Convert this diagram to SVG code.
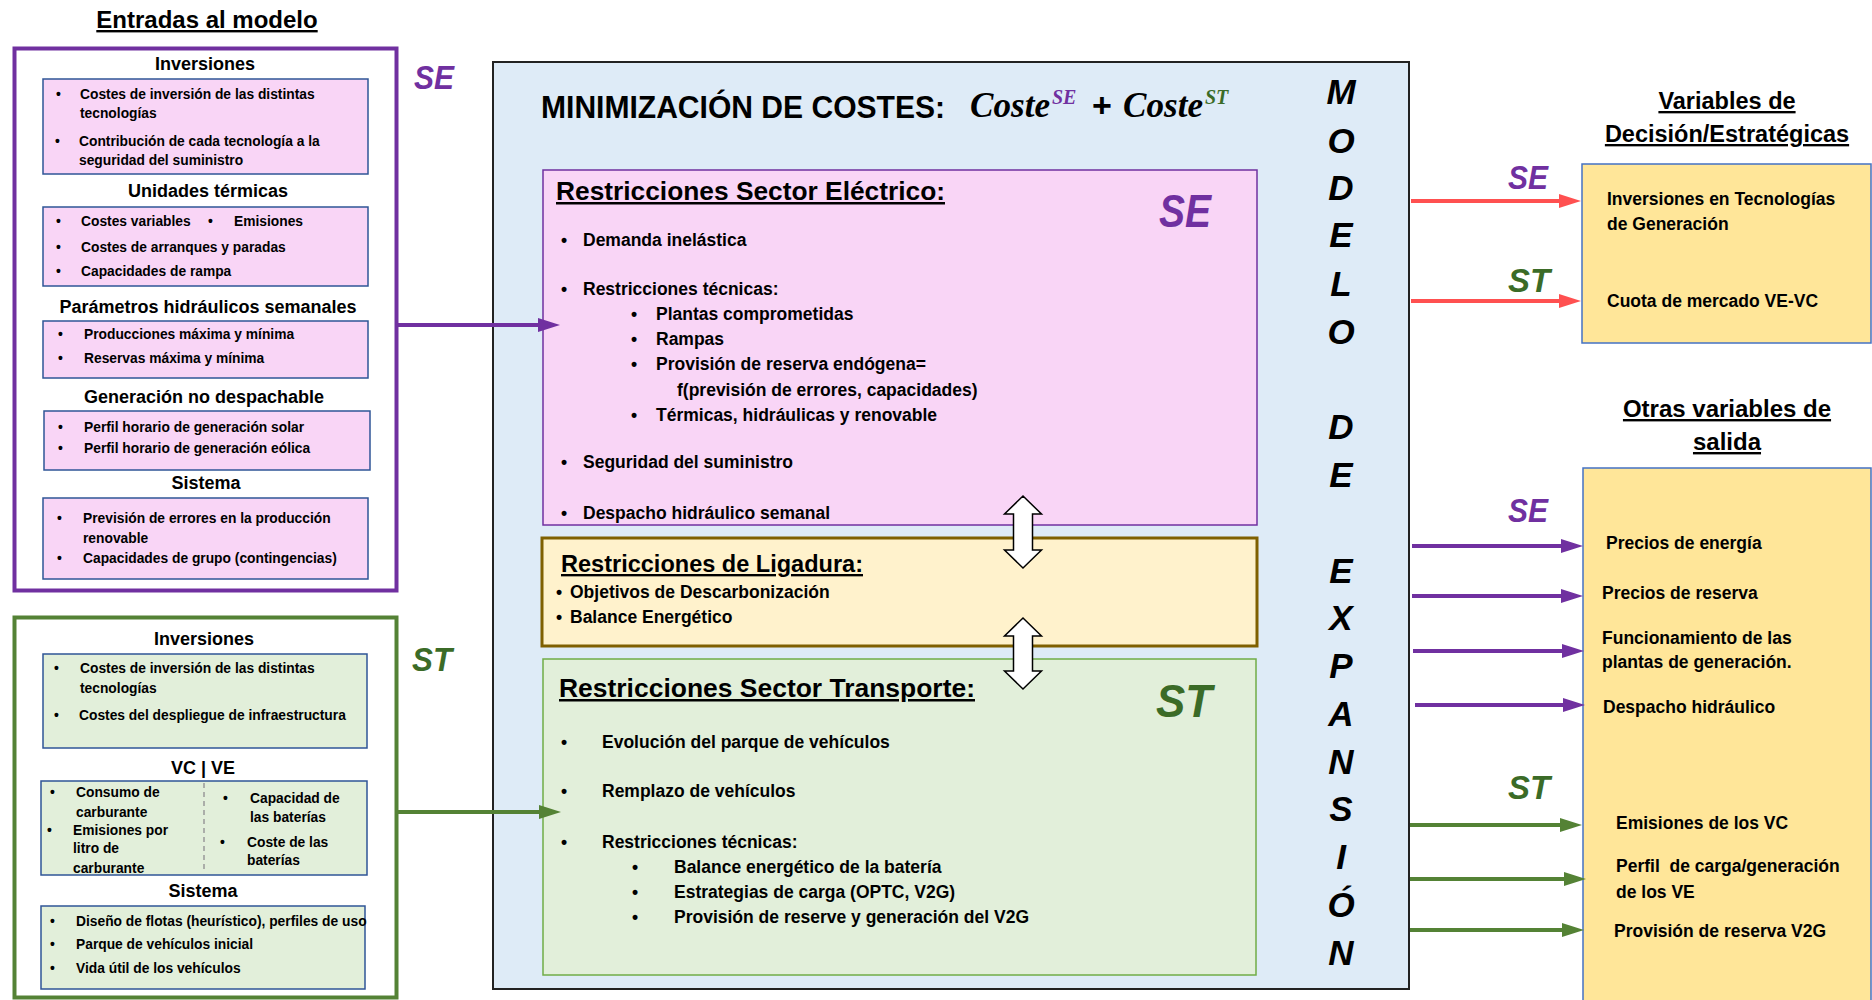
<svg xmlns="http://www.w3.org/2000/svg" width="1872" height="1000" viewBox="0 0 1872 1000">
<style>
text{font-family:"Liberation Sans",Arial,sans-serif;font-weight:bold;fill:#000}
.big{font-size:24px;text-decoration:underline;text-anchor:middle}
.hd{font-size:18px;text-anchor:middle}
.li{font-size:13.8px}
.c{font-size:17.5px}
.tt{font-size:25px;text-decoration:underline}
.lab{font-size:33px;font-style:italic}
.lab2{font-size:46px;font-style:italic}
.se{fill:#7030A0}
.st{fill:#3B6B27}
.inb{stroke:#2F5597;stroke-width:1.5}
.pk{fill:#F9D5F6}
.gr{fill:#E2EFDA}
.mod{font-size:35px;font-style:italic;text-anchor:middle}
.f{font-family:"Liberation Serif","Times New Roman",serif;font-style:italic;font-weight:bold}
.dbl{fill:#fff;stroke:#000;stroke-width:1.5}
.cp{stroke:#7030A0;stroke-width:4;fill:none}
.cg{stroke:#548235;stroke-width:4;fill:none}
.cr{stroke:#FF5050;stroke-width:4;fill:none}
</style>
<defs>
<marker id="ap" markerUnits="userSpaceOnUse" markerWidth="22" markerHeight="14" refX="2" refY="7" orient="auto"><path d="M0,0 L22,7 L0,14 z" fill="#7030A0"/></marker>
<marker id="ag" markerUnits="userSpaceOnUse" markerWidth="22" markerHeight="14" refX="2" refY="7" orient="auto"><path d="M0,0 L22,7 L0,14 z" fill="#548235"/></marker>
<marker id="ar" markerUnits="userSpaceOnUse" markerWidth="22" markerHeight="14" refX="2" refY="7" orient="auto"><path d="M0,0 L22,7 L0,14 z" fill="#FF5050"/></marker>
</defs>
<rect width="1872" height="1000" fill="#fff"/>

<text x="207" y="28" class="big">Entradas al modelo</text>

<g id="inputs-se">
<rect x="14.5" y="48.5" width="382" height="542" fill="#fff" stroke="#7030A0" stroke-width="4"/>
<text x="414" y="89" class="lab se" textLength="40" lengthAdjust="spacingAndGlyphs">SE</text>
<text x="205" y="70" class="hd">Inversiones</text>
<rect x="43" y="79" width="325" height="95" class="pk inb"/>
<text x="56" y="99" class="li">•</text><text x="80" y="99" class="li">Costes de inversión de las distintas</text>
<text x="80" y="118" class="li">tecnologías</text>
<text x="55" y="146" class="li">•</text><text x="79" y="146" class="li">Contribución de cada tecnología a la</text>
<text x="79" y="165" class="li">seguridad del suministro</text>
<text x="208" y="197" class="hd">Unidades térmicas</text>
<rect x="43" y="207" width="325" height="79" class="pk inb"/>
<text x="56" y="226" class="li">•</text><text x="81" y="226" class="li">Costes variables</text>
<text x="208" y="226" class="li">•</text><text x="234" y="226" class="li">Emisiones</text>
<text x="56" y="252" class="li">•</text><text x="81" y="252" class="li">Costes de arranques y paradas</text>
<text x="56" y="276" class="li">•</text><text x="81" y="276" class="li">Capacidades de rampa</text>
<text x="208" y="313" class="hd">Parámetros hidráulicos semanales</text>
<rect x="43" y="321" width="325" height="57" class="pk inb"/>
<text x="58" y="339" class="li">•</text><text x="84" y="339" class="li">Producciones máxima y mínima</text>
<text x="58" y="363" class="li">•</text><text x="84" y="363" class="li">Reservas máxima y mínima</text>
<text x="204" y="403" class="hd">Generación no despachable</text>
<rect x="44" y="411" width="326" height="59" class="pk inb"/>
<text x="58" y="432" class="li">•</text><text x="84" y="432" class="li">Perfil horario de generación solar</text>
<text x="58" y="453" class="li">•</text><text x="84" y="453" class="li">Perfil horario de generación eólica</text>
<text x="206" y="489" class="hd">Sistema</text>
<rect x="43" y="498" width="325" height="81" class="pk inb"/>
<text x="57" y="523" class="li">•</text><text x="83" y="523" class="li">Previsión de errores en la producción</text>
<text x="83" y="543" class="li">renovable</text>
<text x="57" y="563" class="li">•</text><text x="83" y="563" class="li">Capacidades de grupo (contingencias)</text>
</g>

<g id="inputs-st">
<rect x="14.5" y="617.5" width="382" height="380" fill="#fff" stroke="#548235" stroke-width="4"/>
<text x="412" y="671" class="lab st" textLength="40" lengthAdjust="spacingAndGlyphs">ST</text>
<text x="204" y="645" class="hd">Inversiones</text>
<rect x="43" y="654" width="324" height="94" class="gr inb"/>
<text x="54" y="673" class="li">•</text><text x="80" y="673" class="li">Costes de inversión de las distintas</text>
<text x="80" y="693" class="li">tecnologías</text>
<text x="54" y="720" class="li">•</text><text x="79" y="720" class="li">Costes del despliegue de infraestructura</text>
<text x="203" y="774" class="hd">VC | VE</text>
<rect x="41" y="781" width="326" height="94" class="gr inb"/>
<line x1="204" y1="783" x2="204" y2="870" stroke="#999" stroke-width="1.5" stroke-dasharray="5,4"/>
<text x="50" y="797" class="li">•</text><text x="76" y="797" class="li">Consumo de</text>
<text x="76" y="817" class="li">carburante</text>
<text x="47" y="835" class="li">•</text><text x="73" y="835" class="li">Emisiones por</text>
<text x="73" y="853" class="li">litro de</text>
<text x="73" y="873" class="li">carburante</text>
<text x="223" y="803" class="li">•</text><text x="250" y="803" class="li">Capacidad de</text>
<text x="250" y="822" class="li">las baterías</text>
<text x="220" y="847" class="li">•</text><text x="247" y="847" class="li">Coste de las</text>
<text x="247" y="865" class="li">baterías</text>
<text x="203" y="897" class="hd">Sistema</text>
<rect x="41" y="906" width="324" height="83" class="gr inb"/>
<text x="50" y="926" class="li">•</text><text x="76" y="926" class="li">Diseño de flotas (heurístico), perfiles de uso</text>
<text x="50" y="949" class="li">•</text><text x="76" y="949" class="li">Parque de vehículos inicial</text>
<text x="50" y="973" class="li">•</text><text x="76" y="973" class="li">Vida útil de los vehículos</text>
</g>

<g id="modelo">
<rect x="493" y="62" width="916" height="927" fill="#DEEBF7" stroke="#222" stroke-width="2"/>
<text x="541" y="118" font-size="31" textLength="404" lengthAdjust="spacingAndGlyphs">MINIMIZACIÓN DE COSTES:</text>
<text x="970" y="117" class="f" font-size="35" textLength="80" lengthAdjust="spacingAndGlyphs">Coste</text>
<text x="1052" y="104" class="f se" font-size="20">SE</text>
<text x="1102" y="117" font-family="Liberation Serif,serif" font-weight="normal" font-size="34" text-anchor="middle">+</text>
<text x="1123" y="117" class="f" font-size="35" textLength="80" lengthAdjust="spacingAndGlyphs">Coste</text>
<text x="1205" y="104" class="f st" font-size="20">ST</text>
<text class="mod"><tspan x="1341" y="104">M</tspan><tspan x="1341" y="153">O</tspan><tspan x="1341" y="200">D</tspan><tspan x="1341" y="247">E</tspan><tspan x="1341" y="296">L</tspan><tspan x="1341" y="344">O</tspan><tspan x="1341" y="439">D</tspan><tspan x="1341" y="487">E</tspan><tspan x="1341" y="583">E</tspan><tspan x="1341" y="630">X</tspan><tspan x="1341" y="678">P</tspan><tspan x="1341" y="726">A</tspan><tspan x="1341" y="774">N</tspan><tspan x="1341" y="821">S</tspan><tspan x="1341" y="869">I</tspan><tspan x="1341" y="917">Ó</tspan><tspan x="1341" y="965">N</tspan></text>
</g>

<g id="restr-se">
<rect x="543" y="170" width="714" height="355" fill="#F9D5F6" stroke="#7030A0" stroke-width="1.5"/>
<text x="556" y="200" class="tt" textLength="389" lengthAdjust="spacingAndGlyphs">Restricciones Sector Eléctrico:</text>
<text x="1159" y="227" class="lab2 se" textLength="52" lengthAdjust="spacingAndGlyphs">SE</text>
<text x="561" y="246" class="c">•</text><text x="583" y="246" class="c">Demanda inelástica</text>
<text x="561" y="295" class="c">•</text><text x="583" y="295" class="c">Restricciones técnicas:</text>
<text x="631" y="320" class="c">•</text><text x="656" y="320" class="c">Plantas comprometidas</text>
<text x="631" y="345" class="c">•</text><text x="656" y="345" class="c">Rampas</text>
<text x="631" y="370" class="c">•</text><text x="656" y="370" class="c">Provisión de reserva endógena=</text>
<text x="677" y="396" class="c">f(previsión de errores, capacidades)</text>
<text x="631" y="421" class="c">•</text><text x="656" y="421" class="c">Térmicas, hidráulicas y renovable</text>
<text x="561" y="468" class="c">•</text><text x="583" y="468" class="c">Seguridad del suministro</text>
<text x="561" y="519" class="c">•</text><text x="583" y="519" class="c">Despacho hidráulico semanal</text>
</g>

<g id="restr-ligadura">
<rect x="542" y="538" width="715" height="108" fill="#FFF2CC" stroke="#7F6000" stroke-width="3"/>
<text x="561" y="572" class="tt" style="font-size:23.5px" textLength="302" lengthAdjust="spacingAndGlyphs">Restricciones de Ligadura:</text>
<text x="556" y="598" class="c">•</text><text x="570" y="598" class="c">Objetivos de Descarbonización</text>
<text x="556" y="623" class="c">•</text><text x="570" y="623" class="c">Balance Energético</text>
</g>

<g id="restr-st">
<rect x="543" y="659" width="713" height="316" fill="#E2EFDA" stroke="#70AD47" stroke-width="1.5"/>
<text x="559" y="697" class="tt" textLength="416" lengthAdjust="spacingAndGlyphs">Restricciones Sector Transporte:</text>
<text x="1156" y="717" class="lab2 st" textLength="56" lengthAdjust="spacingAndGlyphs">ST</text>
<text x="561" y="748" class="c">•</text><text x="602" y="748" class="c">Evolución del parque de vehículos</text>
<text x="561" y="797" class="c">•</text><text x="602" y="797" class="c">Remplazo de vehículos</text>
<text x="561" y="848" class="c">•</text><text x="602" y="848" class="c">Restricciones técnicas:</text>
<text x="632" y="873" class="c">•</text><text x="674" y="873" class="c">Balance energético de la batería</text>
<text x="632" y="898" class="c">•</text><text x="674" y="898" class="c">Estrategias de carga (OPTC, V2G)</text>
<text x="632" y="923" class="c">•</text><text x="674" y="923" class="c">Provisión de reserve y generación del V2G</text>
</g>

<g id="decision">
<text x="1727" y="109" class="big" style="font-size:23.5px">Variables de</text>
<text x="1727" y="142" class="big" style="font-size:23.5px">Decisión/Estratégicas</text>
<rect x="1582" y="164" width="289" height="179" fill="#FFE699" stroke="#4472C4" stroke-width="1.5"/>
<text x="1607" y="205" class="c">Inversiones en Tecnologías</text>
<text x="1607" y="230" class="c">de Generación</text>
<text x="1607" y="307" class="c">Cuota de mercado VE-VC</text>
</g>

<g id="salidas">
<text x="1727" y="417" class="big">Otras variables de</text>
<text x="1727" y="450" class="big">salida</text>
<rect x="1583" y="468" width="288" height="545" fill="#FFE699" stroke="#4472C4" stroke-width="1.5"/>
<text x="1606" y="549" class="c">Precios de energía</text>
<text x="1602" y="599" class="c">Precios de reserva</text>
<text x="1602" y="644" class="c">Funcionamiento de las</text>
<text x="1602" y="668" class="c">plantas de generación.</text>
<text x="1603" y="713" class="c">Despacho hidráulico</text>
<text x="1616" y="829" class="c">Emisiones de los VC</text>
<text x="1616" y="872" class="c">Perfil&#160; de carga/generación</text>
<text x="1616" y="898" class="c">de los VE</text>
<text x="1614" y="937" class="c">Provisión de reserva V2G</text>
</g>

<g id="connectors">
<line x1="398" y1="325" x2="540" y2="325" class="cp" marker-end="url(#ap)"/>
<line x1="398" y1="812" x2="541" y2="812" class="cg" marker-end="url(#ag)"/>
<line x1="1411" y1="201" x2="1561" y2="201" class="cr" marker-end="url(#ar)"/>
<line x1="1411" y1="301" x2="1561" y2="301" class="cr" marker-end="url(#ar)"/>
<line x1="1412" y1="546" x2="1563" y2="546" class="cp" marker-end="url(#ap)"/>
<line x1="1412" y1="596" x2="1563" y2="596" class="cp" marker-end="url(#ap)"/>
<line x1="1413" y1="651" x2="1564" y2="651" class="cp" marker-end="url(#ap)"/>
<line x1="1415" y1="705" x2="1565" y2="705" class="cp" marker-end="url(#ap)"/>
<line x1="1410" y1="825" x2="1562" y2="825" class="cg" marker-end="url(#ag)"/>
<line x1="1410" y1="879" x2="1566" y2="879" class="cg" marker-end="url(#ag)"/>
<line x1="1410" y1="930" x2="1564" y2="930" class="cg" marker-end="url(#ag)"/>
<path class="dbl" d="M1023,496 L1041.5,514 L1032.5,514 L1032.5,550 L1041.5,550 L1023,568 L1004.5,550 L1013.5,550 L1013.5,514 L1004.5,514 Z"/>
<path class="dbl" d="M1023,618 L1041.5,636 L1032.5,636 L1032.5,671 L1041.5,671 L1023,689 L1004.5,671 L1013.5,671 L1013.5,636 L1004.5,636 Z"/>
<text x="1508" y="189" class="lab se" textLength="40" lengthAdjust="spacingAndGlyphs">SE</text>
<text x="1508" y="292" class="lab st" textLength="42" lengthAdjust="spacingAndGlyphs">ST</text>
<text x="1508" y="522" class="lab se" textLength="40" lengthAdjust="spacingAndGlyphs">SE</text>
<text x="1508" y="799" class="lab st" textLength="42" lengthAdjust="spacingAndGlyphs">ST</text>
</g>
</svg>
